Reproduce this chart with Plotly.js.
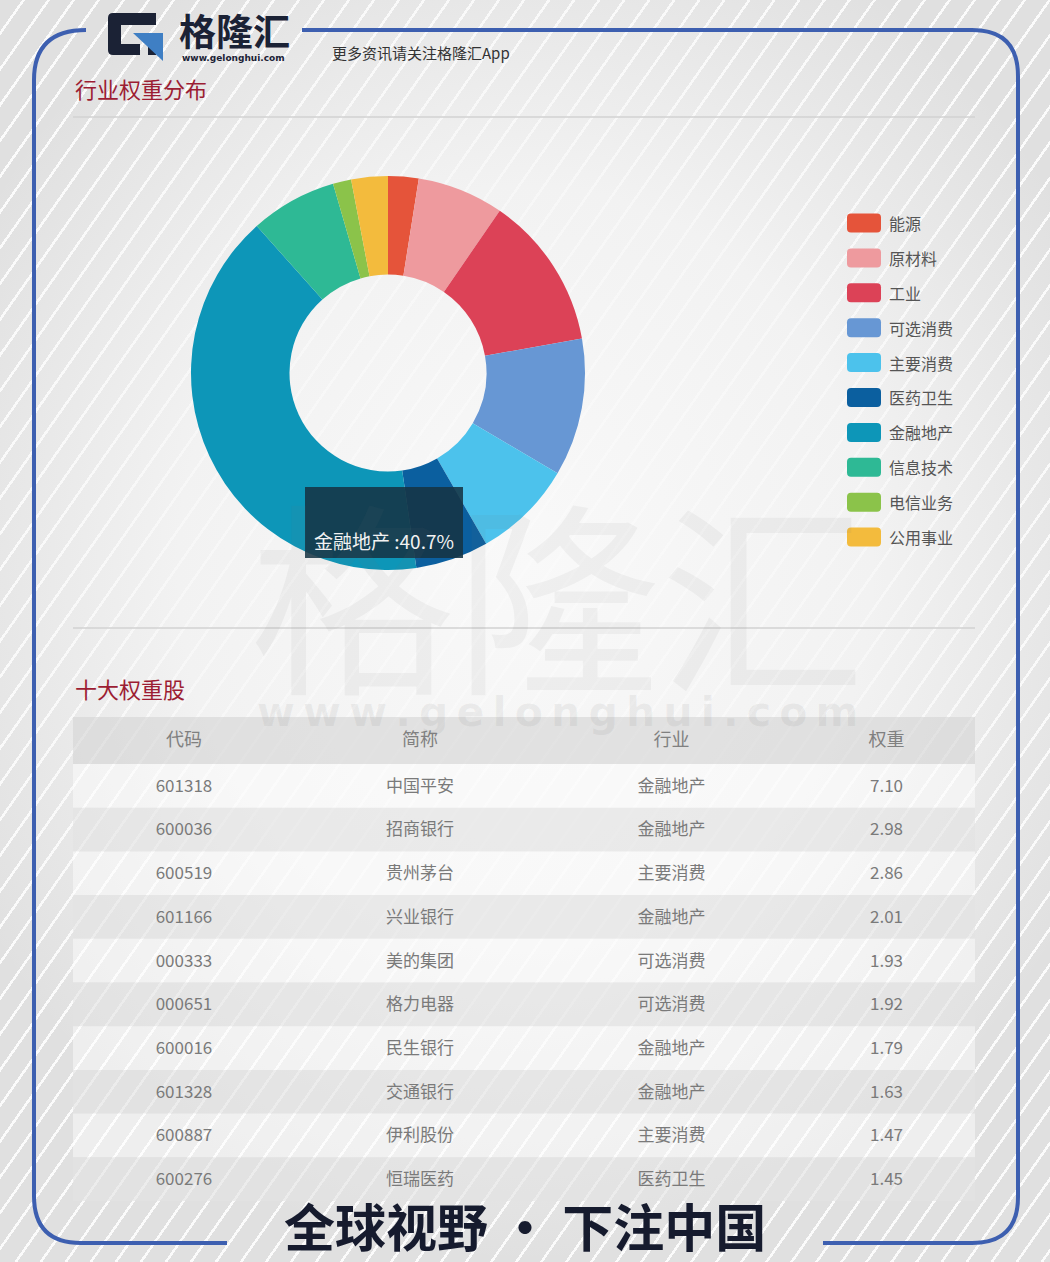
<!DOCTYPE html>
<html>
<head>
<meta charset="utf-8">
<script src="https://cdn.plot.ly/plotly-3.0.1.min.js"></script>
<style>
  html, body { margin: 0; padding: 0; }
  body {
    width: 1050px; height: 1262px; overflow: hidden;
    background:
      radial-gradient(ellipse 60% 55% at 50% 45%, rgba(250,250,250,0.96) 0%, rgba(246,246,246,0.82) 55%, rgba(240,240,240,0) 100%),
      repeating-linear-gradient(125deg, #e0e0e0 0px, #e0e0e0 18px, #fbfbfb 18px, #fbfbfb 20.5px);
  }
  #chart { width: 1050px; height: 1262px; }
</style>
</head>
<body>
<div id="chart"></div>
<script>
// industry weights (donut)
const sectors = ["能源", "原材料", "工业", "可选消费", "主要消费", "医药卫生", "金融地产", "信息技术", "电信业务", "公用事业"];
const sectorWeights = [2.5, 7.1, 12.6, 11.3, 8.2, 6.0, 40.7, 7.1, 1.5, 3.0];
const sectorColors = ["#e5543a", "#ee9a9e", "#dc4257", "#6797d4", "#4cc2ec", "#0b5f9f", "#0d96b8", "#2eb995", "#8bc34a", "#f3bb3d"];
const highlighted = 6; // the slice shown in the tooltip box

// top ten holdings (table)
const tableHeader = ["代码", "简称", "行业", "权重"];
const stockCodes = ["601318", "600036", "600519", "601166", "000333", "000651", "600016", "601328", "600887", "600276"];
const stockNames = ["中国平安", "招商银行", "贵州茅台", "兴业银行", "美的集团", "格力电器", "民生银行", "交通银行", "伊利股份", "恒瑞医药"];
const stockSectors = ["金融地产", "金融地产", "主要消费", "金融地产", "可选消费", "可选消费", "金融地产", "金融地产", "主要消费", "医药卫生"];
const stockWeights = [7.10, 2.98, 2.86, 2.01, 1.93, 1.92, 1.79, 1.63, 1.47, 1.45];

const W = 1050, H = 1262;
const X = v => v / W;          // pixel -> paper
const Y = v => 1 - v / H;
const CJK = "Noto Sans CJK SC, sans-serif";

// build a paper-ref path from pixel points ("M", [x, y], "L", [x, y] ...)
function pathOf(parts) {
    let s = "";
    for (let i = 0; i < parts.length; i++) {
        const p = parts[i];
        if (typeof p === "string") { s += p + " "; continue; }
        s += X(p[0]).toFixed(5) + "," + Y(p[1]).toFixed(5) + " ";
    }
    return s.trim();
}

const blue = "#3d5fb0";
const shapes = [];
const annotations = [];

// blue rounded frame, broken at the logo and at the slogan
shapes.push({type: "path", xref: "paper", yref: "paper", line: {color: blue, width: 4},
    path: pathOf(["M", [302, 30], "L", [972, 30], "Q", [1018, 30], [1018, 76], "L", [1018, 1197],
                  "Q", [1018, 1243], [972, 1243], "L", [823, 1243]])});
shapes.push({type: "path", xref: "paper", yref: "paper", line: {color: blue, width: 4},
    path: pathOf(["M", [227, 1243], "L", [81, 1243], "Q", [34, 1243], [34, 1196], "L", [34, 80],
                  "Q", [34, 30], [86, 30]])});

// separators
[117, 628].forEach(yy => shapes.push({type: "line", xref: "paper", yref: "paper",
    x0: X(73), x1: X(975), y0: Y(yy), y1: Y(yy), line: {color: "#d2d2d2", width: 1.5}}));

// logo mark
shapes.push({type: "path", xref: "paper", yref: "paper", fillcolor: "#1b2235", line: {width: 0},
    path: pathOf(["M", [108, 18], "Q", [108, 13], [113, 13], "L", [156, 13], "L", [156, 25], "L", [121, 25],
                  "L", [121, 44], "L", [140, 44], "L", [140, 55], "L", [113, 55], "Q", [108, 55], [108, 50], "Z"])});
shapes.push({type: "path", xref: "paper", yref: "paper", fillcolor: "#1b2235", line: {width: 0},
    path: pathOf(["M", [148, 33], "L", [156, 33], "L", [156, 55], "L", [148, 55], "Z"])});
shapes.push({type: "path", xref: "paper", yref: "paper", fillcolor: "#3f7fc4", line: {width: 0},
    path: pathOf(["M", [133, 33], "L", [163, 33], "L", [163, 61], "Z"])});

annotations.push({xref: "paper", yref: "paper", x: X(177), y: Y(30), xanchor: "left", yanchor: "middle",
    text: "<b>格隆汇</b>", showarrow: false, font: {family: CJK, size: 37, color: "#1b2235"}});
annotations.push({xref: "paper", yref: "paper", x: X(180), y: Y(58), xanchor: "left", yanchor: "middle",
    text: "<b>www.gelonghui.com</b>", showarrow: false, font: {family: "DejaVu Sans, sans-serif", size: 9, color: "#1b2235"}});
annotations.push({xref: "paper", yref: "paper", x: X(330), y: Y(52), xanchor: "left", yanchor: "middle",
    text: "更多资讯请关注格隆汇App", showarrow: false, font: {family: CJK, size: 15, color: "#333"}});

// section titles
annotations.push({xref: "paper", yref: "paper", x: X(73), y: Y(88), xanchor: "left", yanchor: "middle",
    text: "行业权重分布", showarrow: false, font: {family: CJK, size: 22, color: "#9c1d33"}});
annotations.push({xref: "paper", yref: "paper", x: X(73), y: Y(688), xanchor: "left", yanchor: "middle",
    text: "十大权重股", showarrow: false, font: {family: CJK, size: 22, color: "#9c1d33"}});

// watermark
annotations.push({xref: "paper", yref: "paper", x: X(557), y: Y(588), xanchor: "center", yanchor: "middle",
    text: "格隆汇", showarrow: false, font: {family: CJK, size: 205, color: "rgba(110,110,110,0.07)"}});
annotations.push({xref: "paper", yref: "paper", x: X(557), y: Y(712), xanchor: "center", yanchor: "middle",
    text: "<b>" + "www.gelonghui.com".split("").join("\u2009") + "</b>", showarrow: false,
    font: {family: "DejaVu Sans, sans-serif", size: 41, color: "rgba(110,110,110,0.09)"}});

// custom legend (wide rounded swatches)
sectors.forEach((name, i) => {
    const cy = 223 + i * 34.9;
    shapes.push({type: "path", xref: "paper", yref: "paper", fillcolor: sectorColors[i], line: {width: 0},
        path: pathOf(["M", [851, cy - 9.5], "L", [877, cy - 9.5], "Q", [881, cy - 9.5], [881, cy - 5.5],
                      "L", [881, cy + 5.5], "Q", [881, cy + 9.5], [877, cy + 9.5], "L", [851, cy + 9.5],
                      "Q", [847, cy + 9.5], [847, cy + 5.5], "L", [847, cy - 5.5], "Q", [847, cy - 9.5], [851, cy - 9.5], "Z"])});
    annotations.push({xref: "paper", yref: "paper", x: X(887), y: Y(cy), xanchor: "left", yanchor: "middle",
        text: name, showarrow: false, font: {family: CJK, size: 16, color: "#555"}});
});

// tooltip box over the donut
const total = sectorWeights.reduce((a, b) => a + b, 0);
shapes.push({type: "rect", xref: "paper", yref: "paper", x0: X(305), x1: X(463), y0: Y(487), y1: Y(558),
    fillcolor: "rgba(22,52,68,0.88)", line: {width: 0}, layer: "above"});
annotations.push({xref: "paper", yref: "paper", x: X(384), y: Y(540), xanchor: "center", yanchor: "middle",
    text: sectors[highlighted] + " :" + (sectorWeights[highlighted] / total * 100).toFixed(1) + "%",
    showarrow: false, font: {family: CJK, size: 19, color: "#f2f2f2"}});

// slogan
annotations.push({xref: "paper", yref: "paper", x: X(525), y: Y(1225), xanchor: "center", yanchor: "middle",
    text: "<b>全球视野 · 下注中国</b>", showarrow: false, font: {family: CJK, size: 51, color: "#161b2e"}});

// table band fills (plotly puts the text near the top of a cell, so the
// trace is nudged down and the bands are drawn here instead)
const tableTop = 717, headH = 47, rowH = 43.7, textNudge = 7;
shapes.push({type: "rect", xref: "paper", yref: "paper", layer: "below", line: {width: 0},
    x0: X(73), x1: X(975), y0: Y(tableTop), y1: Y(tableTop + headH), fillcolor: "rgba(212,212,212,0.6)"});
stockCodes.forEach((c, i) => {
    const top = tableTop + headH + i * rowH;
    shapes.push({type: "rect", xref: "paper", yref: "paper", layer: "below", line: {width: 0},
        x0: X(73), x1: X(975), y0: Y(top), y1: Y(top + rowH),
        fillcolor: i % 2 === 0 ? "rgba(255,255,255,0.45)" : "rgba(226,226,226,0.6)"});
});

const pie = {
    type: "pie",
    labels: sectors,
    values: sectorWeights,
    sort: false,
    direction: "clockwise",
    rotation: 0,
    hole: 0.5,
    textinfo: "none",
    hoverinfo: "label+percent",
    marker: {colors: sectorColors, line: {width: 0}},
    domain: {x: [X(191), X(585)], y: [Y(570), Y(176)]},
    showlegend: false
};

const table = {
    type: "table",
    columnwidth: [222, 250, 253, 177],
    domain: {x: [X(73), X(975)], y: [Y(1220), Y(tableTop + textNudge)]},
    header: {
        values: tableHeader,
        align: "center",
        height: headH,
        fill: {color: "rgba(0,0,0,0)"},
        line: {width: 0, color: "rgba(0,0,0,0)"},
        font: {family: CJK, size: 18, color: "#808080"}
    },
    cells: {
        values: [stockCodes, stockNames, stockSectors, stockWeights],
        format: [null, null, null, ".2f"],
        align: "center",
        height: rowH,
        fill: {color: "rgba(0,0,0,0)"},
        line: {width: 0, color: "rgba(0,0,0,0)"},
        font: {family: "Liberation Sans Narrow, " + CJK, size: 17, color: "#7a7a7a"}
    }
};

const layout = {
    width: W,
    height: H,
    margin: {l: 0, r: 0, t: 0, b: 0},
    paper_bgcolor: "rgba(0,0,0,0)",
    plot_bgcolor: "rgba(0,0,0,0)",
    font: {family: CJK},
    showlegend: false,
    shapes: shapes,
    annotations: annotations
};

Plotly.newPlot("chart", [pie, table], layout, {displayModeBar: false, staticPlot: true});
</script>
</body>
</html>
